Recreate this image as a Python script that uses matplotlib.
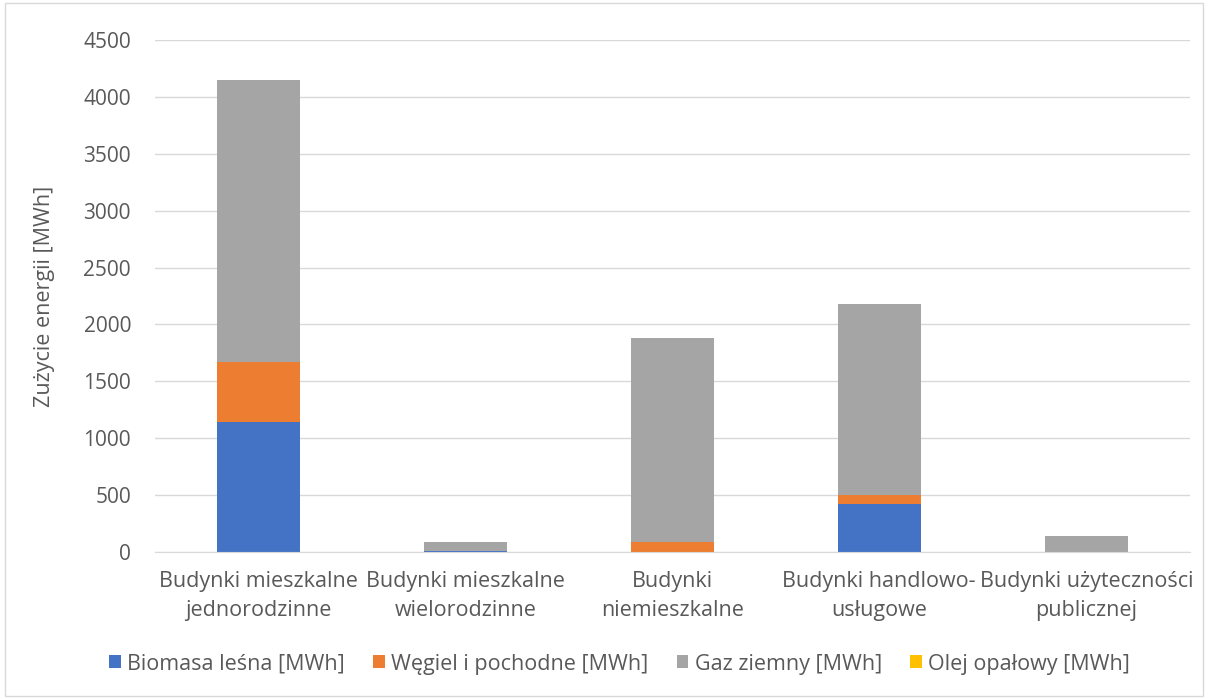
import numpy as np
import matplotlib.pyplot as plt
from matplotlib.patches import Rectangle

plt.rcParams['font.family'] = ['Open Sans', 'DejaVu Sans']

# Categories and series
categories = ["Budynki mieszkalne\njednorodzinne", "Budynki mieszkalne\nwielorodzinne",
              "Budynki\nniemieszkalne", "Budynki handlowo-\nusługowe",
              "Budynki użyteczności\npublicznej"]
biomasa = [1145, 5, 0, 425, 0]
wegiel = [525, 0, 85, 73, 0]
gaz = [2480, 85, 1796, 1682, 141]
olej = [0, 0, 0, 0, 0]

series = [("Biomasa leśna [MWh]", biomasa, "#4472C4"),
          ("Węgiel i pochodne [MWh]", wegiel, "#ED7D31"),
          ("Gaz ziemny [MWh]", gaz, "#A5A5A5"),
          ("Olej opałowy [MWh]", olej, "#FFC000")]

fig = plt.figure(figsize=(12.08, 6.99), dpi=100)
ax = fig.add_axes([0.128, 0.2103, 0.857, 0.7325])

x = np.arange(len(categories))
bottom = np.zeros(len(categories))
for name, vals, col in series:
    ax.bar(x, vals, 0.4, bottom=bottom, color=col, label=name, zorder=3)
    bottom += np.array(vals)

ax.set_xlim(-0.5, len(categories) - 0.5)
ax.set_ylim(0, 4500)
ax.set_yticks(np.arange(0, 4501, 500))
ax.set_xticks(x)
ax.set_xticklabels(categories, fontsize=15.5, color="#595959", linespacing=1.45)
ax.tick_params(axis='y', labelsize=15, colors="#595959", length=0, pad=17)
ax.tick_params(axis='x', length=0, pad=14)
ax.grid(axis='y', color="#d9d9d9", linewidth=1, zorder=0)
for s in ['top', 'right', 'left']:
    ax.spines[s].set_visible(False)
ax.spines['bottom'].set_color("#d9d9d9")
ax.spines['bottom'].set_zorder(4)
ax.set_ylabel("Zużycie energii [MWh]", fontsize=15.5, color="#595959", labelpad=20)

fig.legend(loc='center', bbox_to_anchor=(0.513, 0.05), ncol=4, frameon=False,
           fontsize=15.5, handlelength=0.55, handleheight=0.55, handletextpad=0.3,
           columnspacing=1.3, labelcolor="#595959")

fig.patches.append(Rectangle((0.004, 0.004), 0.992, 0.992, transform=fig.transFigure,
                             fill=False, edgecolor="#d9d9d9", linewidth=1))

fig.savefig("out.png", dpi=100)
